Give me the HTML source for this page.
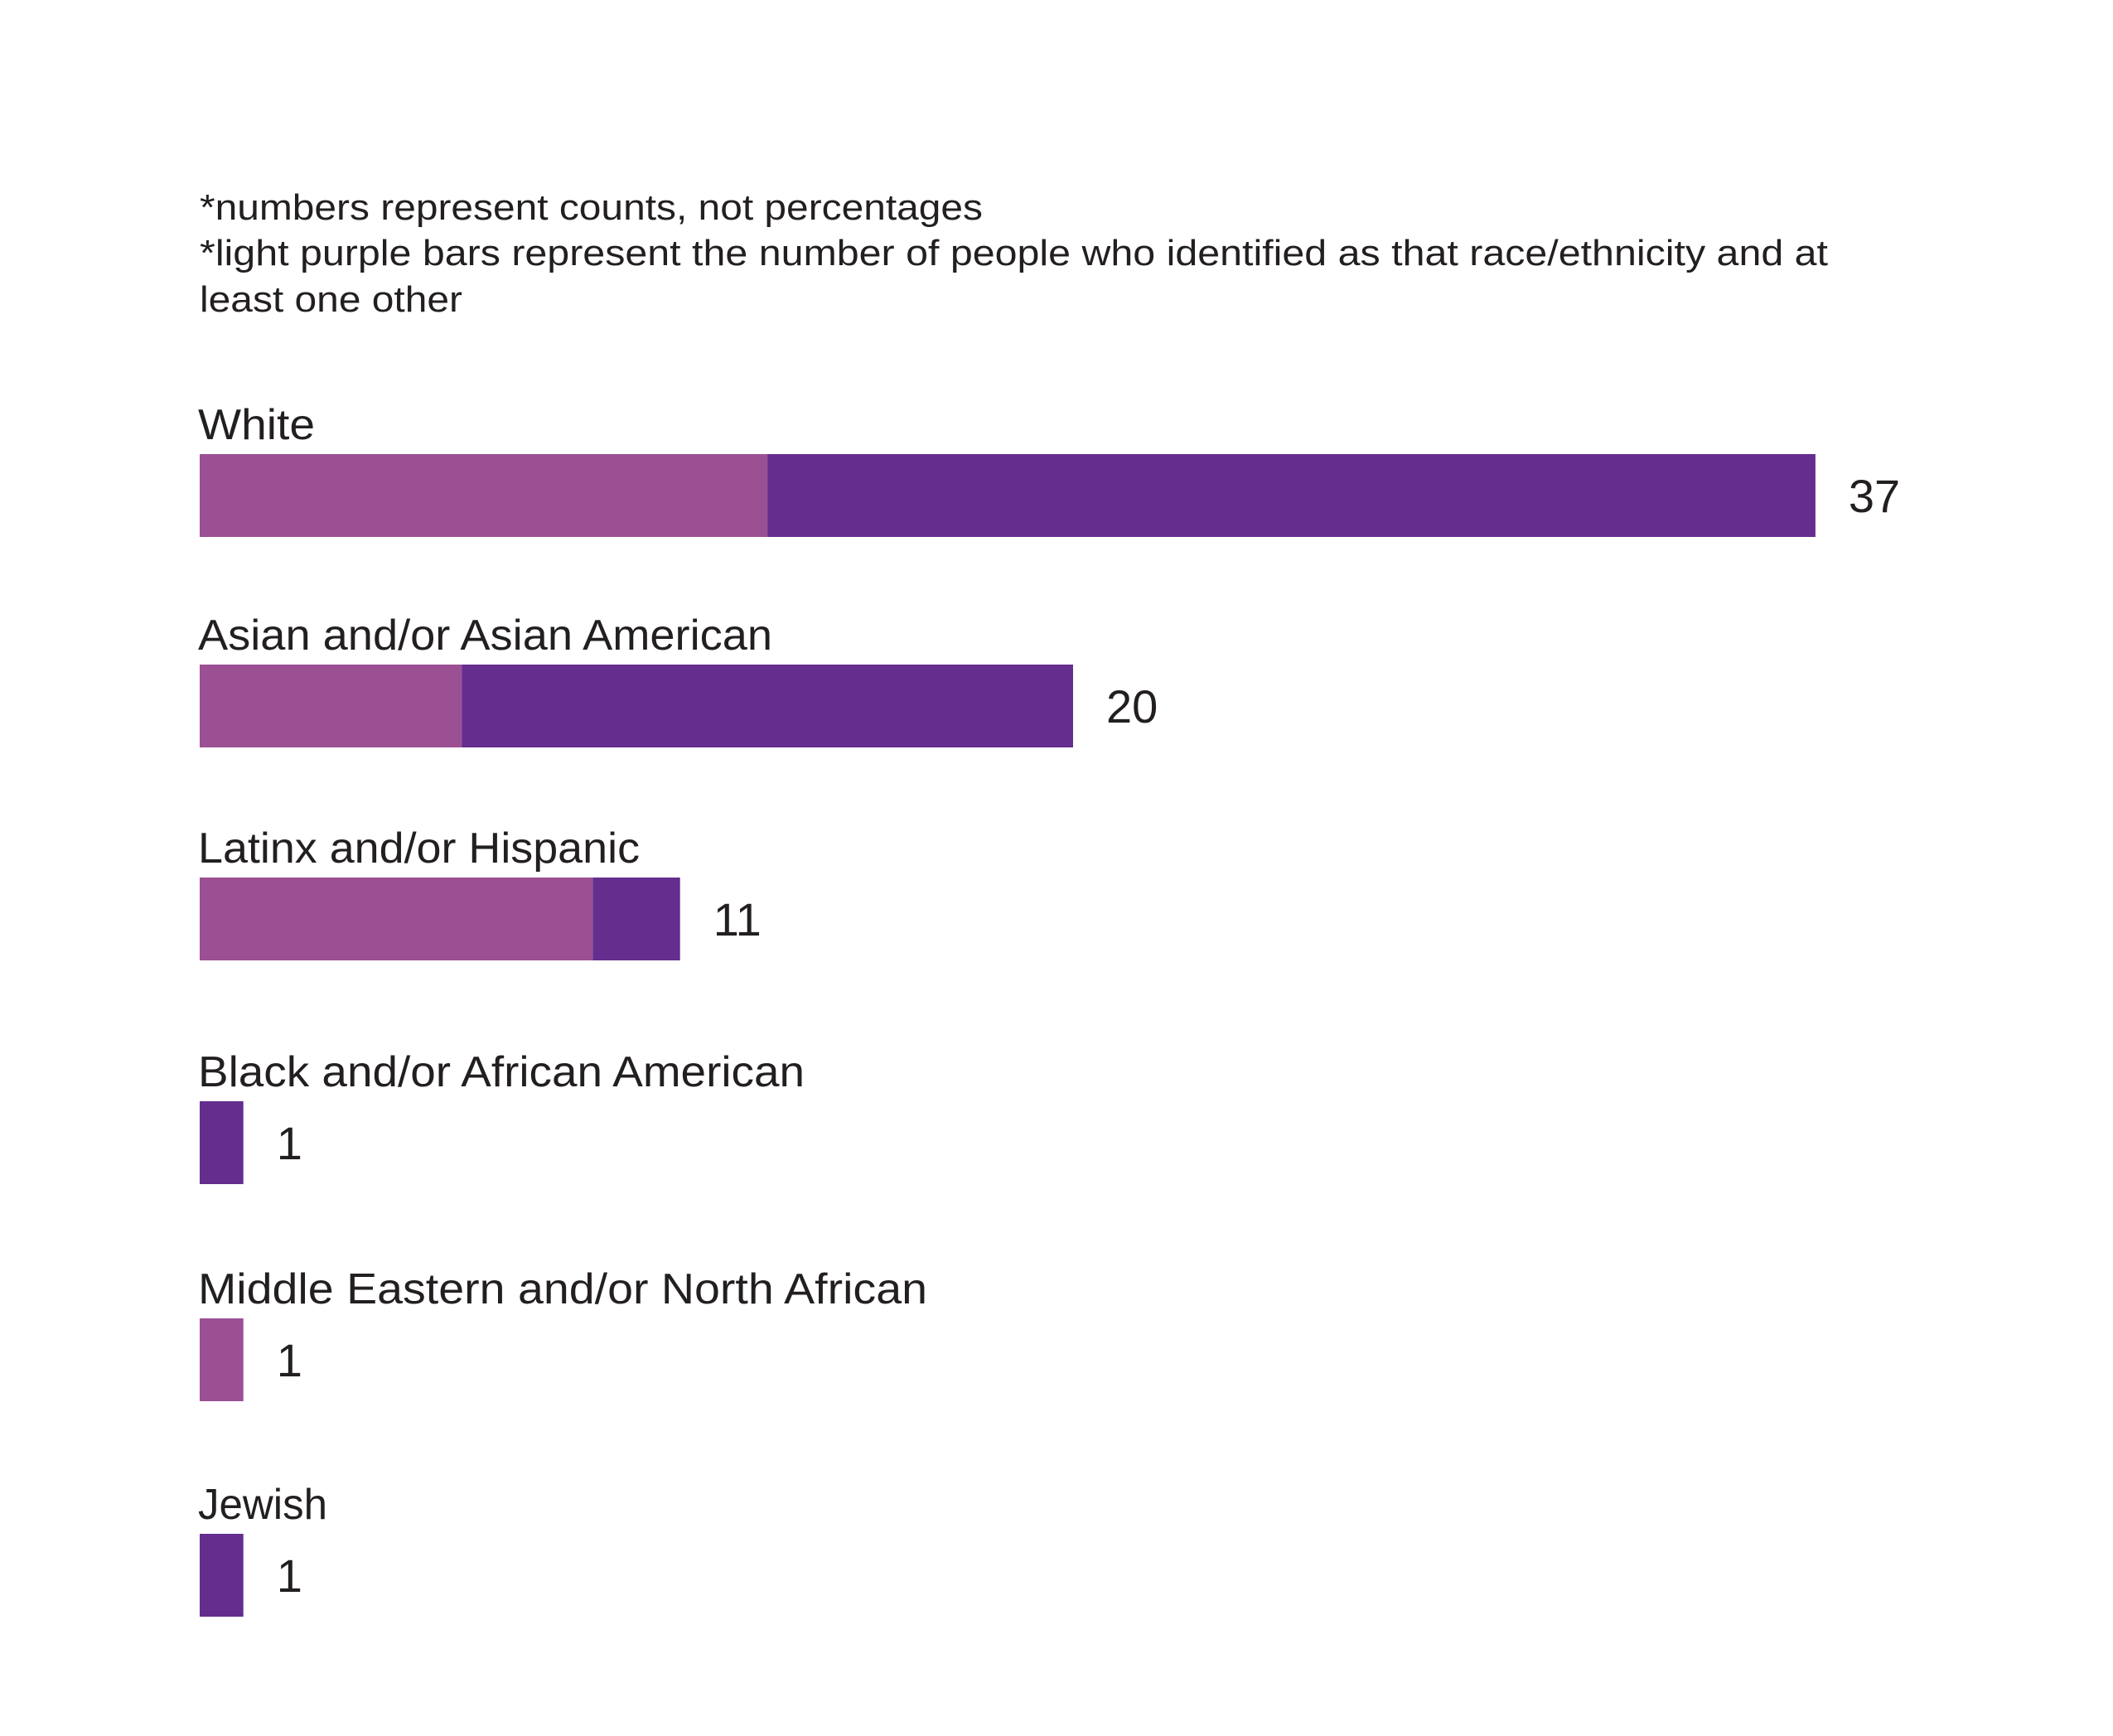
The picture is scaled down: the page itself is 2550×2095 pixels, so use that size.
<!DOCTYPE html>
<html><head><meta charset="utf-8"><style>
html,body{margin:0;padding:0;background:#fff;}
svg{display:block;font-family:"Liberation Sans",sans-serif;}
</style></head><body>
<svg id="chart" width="2550" height="2095" viewBox="0 0 2550 2095" xmlns="http://www.w3.org/2000/svg">
<rect width="2550" height="2095" fill="#fff"/>
<g fill="#231f20" font-size="44">
<text x="241" y="265" textLength="945" lengthAdjust="spacingAndGlyphs">*numbers represent counts, not percentages</text>
<text x="241" y="320" textLength="1965" lengthAdjust="spacingAndGlyphs">*light purple bars represent the number of people who identified as that race/ethnicity and at</text>
<text x="241" y="376" textLength="317" lengthAdjust="spacingAndGlyphs">least one other</text>
</g>
<g id="bars"></g>
</svg>
<script>
const categories = ["White","Asian and/or Asian American","Latinx and/or Hispanic","Black and/or African American","Middle Eastern and/or North African","Jewish"];
const totals = [37, 20, 11, 1, 1, 1];
const multiRace = [13, 6, 9, 0, 1, 0];
const labelWidths = [141, 693, 533, 732, 880, 156];

const NS = "http://www.w3.org/2000/svg";
const g = document.getElementById("bars");
const x0 = 241, pxPerUnit = 52.7;
function xScale(v){ return x0 + v * pxPerUnit; }
const rowTop = [548, 802, 1059, 1329, 1591, 1851];
const barH = 100;
function mk(tag, attrs){ const e=document.createElementNS(NS,tag); for(const k in attrs) e.setAttribute(k, attrs[k]); return e; }

categories.forEach((cat, i) => {
  const top = rowTop[i];
  const lab = mk("text", {x: x0 - 2, y: top - 18, "font-size": 52, fill: "#231f20", textLength: labelWidths[i], lengthAdjust: "spacingAndGlyphs"});
  
  
  lab.textContent = cat;
  g.appendChild(lab);

  const lightEnd = xScale(Math.min(multiRace[i], totals[i]));
  const end = xScale(totals[i]);
  if (multiRace[i] > 0) {
    const r1 = mk("rect", {x: x0, y: top, width: lightEnd - x0, height: barH, fill: "#9b5094"});
    
    
    g.appendChild(r1);
  }
  if (totals[i] > multiRace[i]) {
    const r2 = mk("rect", {x: lightEnd, y: top, width: end - lightEnd, height: barH, fill: "#652d8e"});
    
    
    g.appendChild(r2);
  }
  const val = mk("text", {x: end + 40, y: top + barH/2 + 20, "font-size": 56, fill: "#231f20"});
  
  
  val.textContent = totals[i];
  g.appendChild(val);
});
</script>
</body></html>
